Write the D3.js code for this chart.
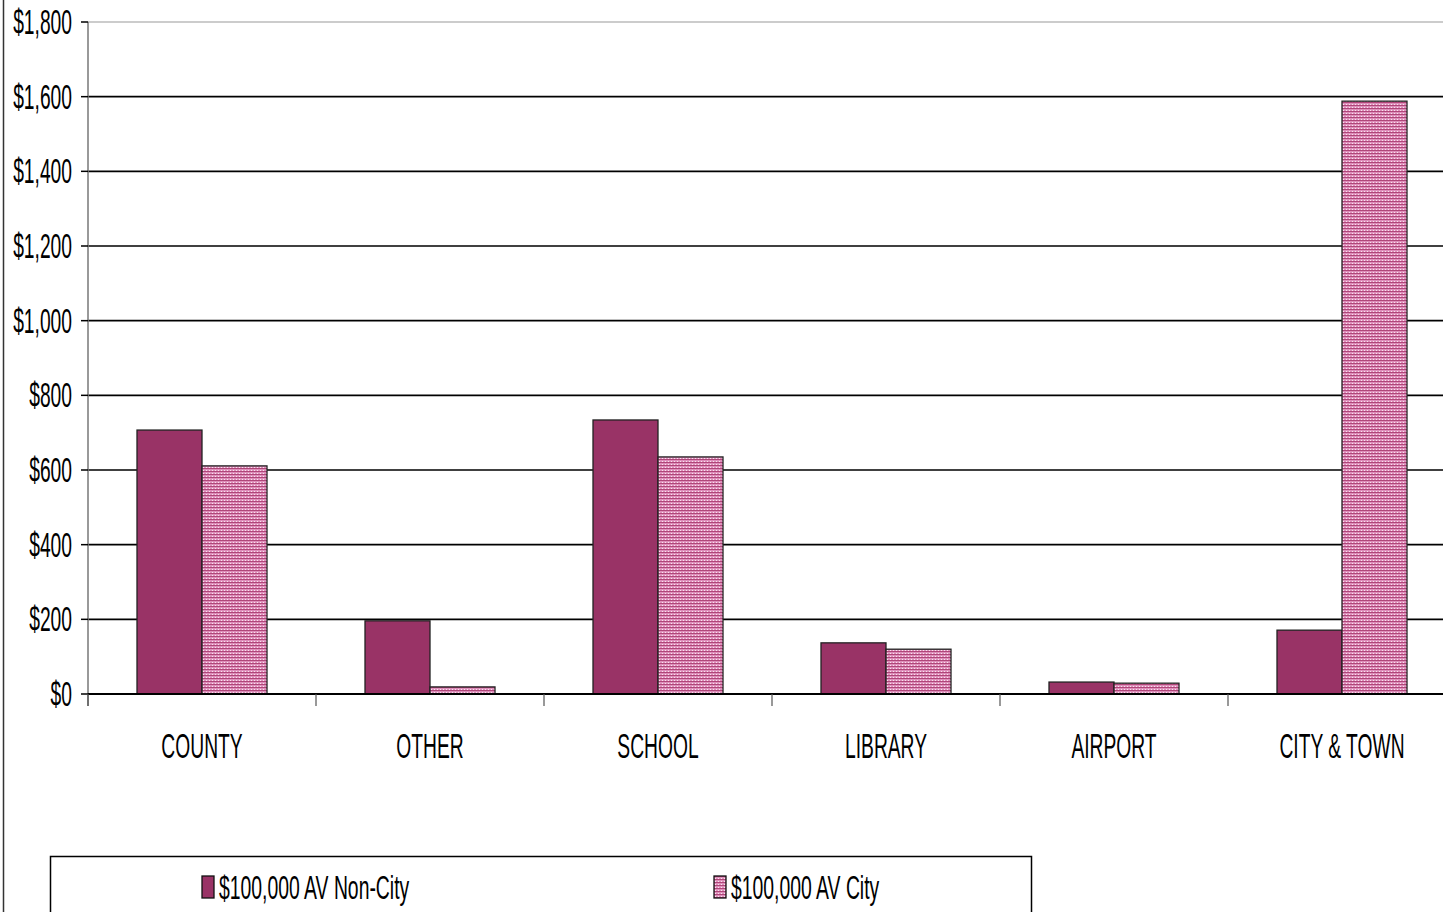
<!DOCTYPE html>
<html>
<head>
<meta charset="utf-8">
<script src="https://cdn.jsdelivr.net/npm/d3@7"></script>
<style>
  body { margin: 0; background: #fff; }
  text { font-family: "Liberation Sans", Arial, sans-serif; fill: #000; }
</style>
</head>
<body>
<script>
const categories = ["COUNTY", "OTHER", "SCHOOL", "LIBRARY", "AIRPORT", "CITY & TOWN"];
const series = ["$100,000 AV Non-City", "$100,000 AV City"];
const nonCity = [707, 196, 734, 137, 32, 171];
const city = [611, 19, 635, 120, 29, 1588];
const yTicks = [0, 200, 400, 600, 800, 1000, 1200, 1400, 1600, 1800];

const W = 1443, H = 912;
const money = d3.format("$,");

const svg = d3.select("body").append("svg")
  .attr("width", W)
  .attr("height", H);

// pink hatch for the city series
const defs = svg.append("defs");
const pat = defs.append("pattern")
  .attr("id", "cityFill")
  .attr("width", 3)
  .attr("height", 3)
  .attr("patternUnits", "userSpaceOnUse");
pat.append("rect").attr("width", 3).attr("height", 3).attr("fill", "#de8fbb");
pat.append("rect").attr("width", 3).attr("height", 1).attr("fill", "#b04679");
pat.append("rect").attr("x", 1).attr("y", 2).attr("width", 1).attr("height", 1).attr("fill", "#f8e4ef");

const color = d3.scaleOrdinal().domain(series).range(["#993366", "url(#cityFill)"]);

const x0 = d3.scaleBand().domain(categories).range([88, 88 + 228 * 6]);
const x1 = d3.scaleBand().domain(series).range([49, 179]);
const y = d3.scaleLinear().domain([0, 1800]).range([694, 22]);

// outer frame line on the left
svg.append("line")
  .attr("x1", 3.5).attr("x2", 3.5).attr("y1", 0).attr("y2", H)
  .attr("stroke", "#333").attr("stroke-width", 1.5);

function squeezedText(g, x, yy, str, size, anchor, sq) {
  return g.append("text")
    .attr("transform", `translate(${x},${yy}) scale(${sq || 0.55},1)`)
    .attr("text-anchor", anchor)
    .style("font-size", size + "px")
    .text(str);
}

// gridlines
svg.append("g").selectAll("line")
  .data(yTicks.filter(d => d > 0))
  .enter().append("line")
  .attr("x1", 88).attr("x2", W)
  .attr("y1", d => y(d)).attr("y2", d => y(d))
  .attr("stroke", d => d === 1800 ? "#999" : "#000")
  .attr("stroke-width", d => d === 1800 ? 1 : 1.6);

// bars
const groups = svg.append("g").selectAll("g")
  .data(categories)
  .enter().append("g")
  .attr("transform", d => `translate(${x0(d)},0)`);

groups.selectAll("rect")
  .data((d, i) => [
    { key: series[0], value: nonCity[i] },
    { key: series[1], value: city[i] }
  ])
  .enter().append("rect")
  .attr("x", d => x1(d.key))
  .attr("y", d => y(d.value))
  .attr("width", x1.bandwidth())
  .attr("height", d => y(0) - y(d.value))
  .attr("fill", d => color(d.key))
  .attr("stroke", "#222")
  .attr("stroke-width", 1.3);

// y axis
svg.append("line")
  .attr("x1", 88).attr("x2", 88).attr("y1", 22).attr("y2", 706)
  .attr("stroke", "#777").attr("stroke-width", 1.5);

const yAxis = svg.append("g");
yTicks.forEach(t => {
  yAxis.append("line")
    .attr("x1", 81).attr("x2", 88).attr("y1", y(t)).attr("y2", y(t))
    .attr("stroke", "#000").attr("stroke-width", 1.5);
  squeezedText(yAxis, 72, y(t) + 12, money(t), 35, "end");
});

// x axis
svg.append("line")
  .attr("x1", 88).attr("x2", W).attr("y1", y(0)).attr("y2", y(0))
  .attr("stroke", "#000").attr("stroke-width", 2);

const xAxis = svg.append("g");
categories.forEach(c => {
  xAxis.append("line")
    .attr("x1", x0(c)).attr("x2", x0(c)).attr("y1", y(0)).attr("y2", 706)
    .attr("stroke", "#555").attr("stroke-width", 1.2);
  squeezedText(xAxis, x0(c) + x0.bandwidth() / 2, 758, c, 35, "middle");
});

// legend
const legend = svg.append("g").attr("id", "legend");
legend.append("rect")
  .attr("x", 50.5).attr("y", 856.5)
  .attr("width", 981).attr("height", 80)
  .attr("fill", "#fff").attr("stroke", "#000").attr("stroke-width", 1.5);

const legendX = [202, 714];
series.forEach((s, i) => {
  legend.append("rect")
    .attr("x", legendX[i]).attr("y", 876)
    .attr("width", 12).attr("height", 22)
    .attr("fill", color(s))
    .attr("stroke", "#111").attr("stroke-width", 1.3);
  squeezedText(legend, legendX[i] + 17, 899, s, 34, "start", 0.57);
});
</script>
</body>
</html>
